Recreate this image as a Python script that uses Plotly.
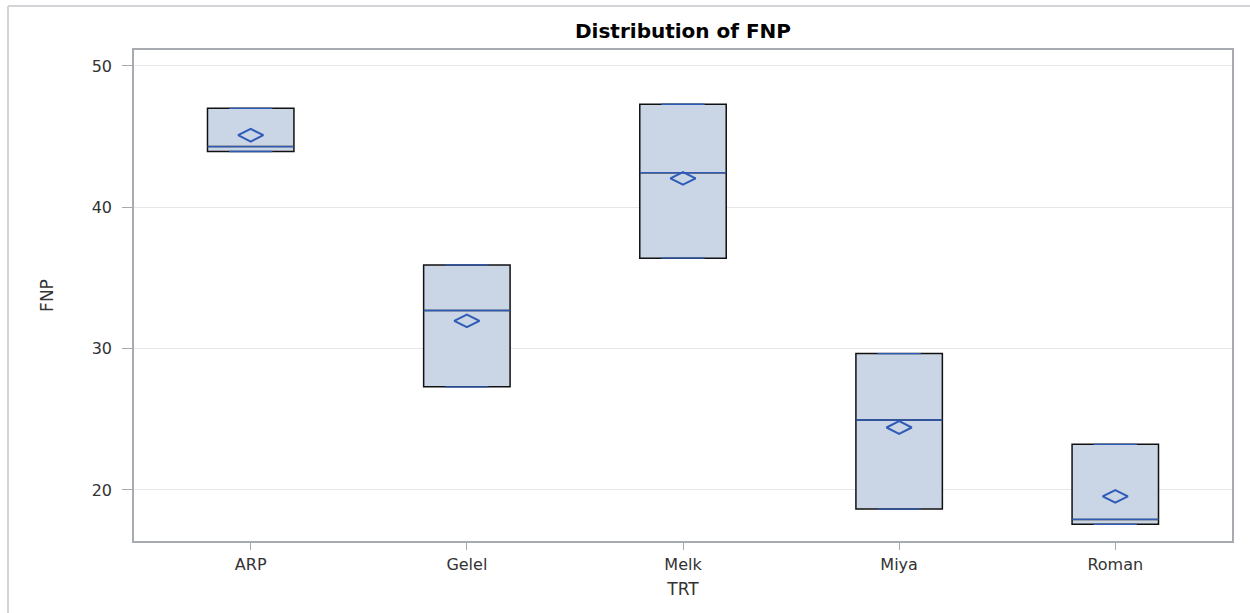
import plotly.graph_objects as go

# ---- data ----
categories = ["ARP", "Gelel", "Melk", "Miya", "Roman"]
minimum = [43.95, 27.30, 36.40, 18.65, 17.57]
q1 = [43.95, 27.30, 36.40, 18.65, 17.57]
median = [44.30, 32.70, 42.45, 24.95, 17.92]
q3 = [47.00, 35.92, 47.29, 29.65, 23.23]
maximum = [47.00, 35.92, 47.29, 29.65, 23.23]
mean = [45.10, 31.97, 42.05, 24.42, 19.55]

y_ticks = [20, 30, 40, 50]

# ---- styling ----
FILL = "#CAD5E5"
BLUE = "#2E5BB8"
AXIS = "#A7ABB1"
GRID = "#E4E6E9"
FONT = "DejaVu Sans"
BOXW = 0.40

# layout geometry (pixels)
W, H = 1250, 613
ML, MR, MT, MB = 134, 18, 50, 72
PW, PH = W - ML - MR, H - MT - MB

fig = go.Figure()

# main boxes: black outline, light fill
fig.add_trace(go.Box(
    x=categories, q1=q1, median=median, q3=q3,
    lowerfence=minimum, upperfence=maximum,
    width=BOXW, fillcolor=FILL,
    line=dict(color="#111111", width=1.5),
    boxpoints=False, whiskerwidth=0, hoverinfo="skip", showlegend=False,
))
# median lines in blue
fig.add_trace(go.Box(
    x=categories, q1=median, median=median, q3=median,
    lowerfence=median, upperfence=median,
    width=BOXW, fillcolor="rgba(0,0,0,0)",
    line=dict(color=BLUE, width=1.3),
    boxpoints=False, whiskerwidth=0, hoverinfo="skip", showlegend=False,
))
# whisker caps at min and max (blue, half box width)
for vals in (minimum, maximum):
    fig.add_trace(go.Box(
        x=categories, q1=vals, median=vals, q3=vals,
        lowerfence=vals, upperfence=vals,
        width=BOXW / 2, fillcolor="rgba(0,0,0,0)",
        line=dict(color=BLUE, width=1.3),
        boxpoints=False, whiskerwidth=0, hoverinfo="skip", showlegend=False,
    ))
# means as open diamonds
fig.add_trace(go.Scatter(
    x=categories, y=mean, mode="markers",
    marker=dict(symbol="diamond-wide-open", size=18, color=BLUE,
                line=dict(color=BLUE, width=2)),
    hoverinfo="skip", showlegend=False,
))

fig.update_layout(
    width=W, height=H,
    margin=dict(l=ML, r=MR, t=MT, b=MB, pad=0),
    paper_bgcolor="white", plot_bgcolor="white",
    boxmode="overlay",
    font=dict(family=FONT, size=16, color="#333333"),
    title=dict(text="<b>Distribution of FNP</b>", x=(ML + PW / 2) / W, xanchor="center",
               y=1 - 31 / H, yanchor="middle", yref="container",
               font=dict(family=FONT, size=20, color="#000000")),
    xaxis=dict(
        type="category", categoryorder="array", categoryarray=categories,
        range=[-0.54, 4.54],
        showline=True, linecolor=AXIS, linewidth=1.5, mirror=True,
        ticks="outside", ticklen=7, tickcolor=AXIS, tickwidth=1.2,
        showgrid=False, zeroline=False,
        tickfont=dict(family=FONT, size=16, color="#333333"),
        ticklabelstandoff=1,
        title=dict(text="TRT", standoff=10, font=dict(family=FONT, size=17, color="#333333")),
    ),
    yaxis=dict(
        range=[16.39, 51.13],
        tickvals=y_ticks,
        showline=True, linecolor=AXIS, linewidth=1.5, mirror=True,
        ticks="outside", ticklen=10, tickcolor=AXIS, tickwidth=1.2,
        showgrid=True, gridcolor=GRID, gridwidth=1, zeroline=False,
        tickfont=dict(family=FONT, size=16, color="#333333"),
        ticklabelstandoff=7,
        title=dict(text="FNP", standoff=34, font=dict(family=FONT, size=17, color="#333333")),
    ),
)

# outer light frame (top and left edges of the image border)
fx = (8 - ML) / PW
fy = (MT + PH - 6) / PH
fig.add_shape(type="line", xref="paper", yref="paper", x0=fx, x1=1.2, y0=fy, y1=fy,
              line=dict(color="#D3D5D8", width=2), layer="below")
fig.add_shape(type="line", xref="paper", yref="paper", x0=fx, x1=fx, y0=fy, y1=-0.3,
              line=dict(color="#D3D5D8", width=2), layer="below")

fig.write_html("out.html", config={"displayModeBar": False},
               post_script="document.body.style.margin='0';document.body.style.overflow='hidden';")
